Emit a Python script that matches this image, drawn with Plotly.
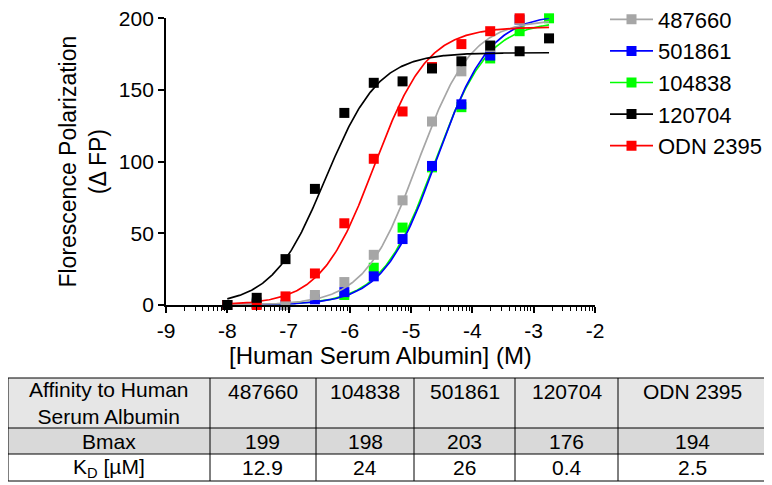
import numpy as np
import plotly.graph_objects as go

# ---------------- data ----------------
log_conc = [-8.00, -7.52, -7.05, -6.57, -6.09, -5.61, -5.14, -4.66, -4.18, -3.71, -3.23, -2.75]

fp_487660 = [0, 2, 0, 7, 16, 35, 73, 128, 163, 180, 199, None]
fp_501861 = [0, 1, 0, 4, 9, 20, 46, 97, 140, 174, 199, None]
fp_104838 = [0, 1, -1, -4, 7, 26, 54, 96, 138, 172, 191, 200]
fp_120704 = [0, 5, 32, 81, 134, 155, 156, 165, 170, 181, 177, 186]
fp_odn2395 = [0, 0, 6, 22, 57, 102, 135, 166, 182, 191, 200, None]

legend_names = ["487660", "501861", "104838", "120704", "ODN 2395"]

table_corner = "Affinity to Human<br>Serum Albumin"
table_compounds = ["487660", "104838", "501861", "120704", "ODN 2395"]
table_row_labels = ["Bmax", "K<sub>D</sub> [µM]"]
bmax = [199, 198, 203, 176, 194]
kd_um = [12.9, 24, 26, 0.4, 2.5]

x_tick_vals = [-9, -8, -7, -6, -5, -4, -3, -2]
x_tick_labels = ["-9", "-8", "-7", "-6", "-5", "-4", "-3", "-2"]
y_tick_vals = [0, 50, 100, 150, 200]

colors = {"487660": "#a6a6a6", "501861": "#0000ff", "104838": "#00ff00",
          "120704": "#000000", "ODN 2395": "#ff0000"}
values = {"487660": fp_487660, "501861": fp_501861, "104838": fp_104838,
          "120704": fp_120704, "ODN 2395": fp_odn2395}
fit = {c: (b, k) for c, b, k in zip(table_compounds, bmax, kd_um)}

# the page body has an 8px margin: the figure is placed at (8, 8) of the 772x485 window
OFF = 8
W, H = 772 - OFF, 485 - OFF
FONT = "Liberation Sans, Arial, sans-serif"


def px(x):
    """window pixel x -> paper fraction"""
    return (x - OFF) / W


def py(y):
    """window pixel y -> paper fraction"""
    return 1 - (y - OFF) / H


fig = go.Figure()

# drawing order (bottom -> top)
draw_order = ["104838", "501861", "487660", "ODN 2395", "120704"]
xfit = np.linspace(min(log_conc), max(log_conc), 300)
for name in draw_order:
    b, k = fit[name]
    yfit = b * 10 ** xfit / (k * 1e-6 + 10 ** xfit)
    fig.add_trace(go.Scatter(x=log_conc, y=values[name], mode="markers",
                             marker=dict(symbol="square", size=10, color=colors[name]),
                             cliponaxis=False, showlegend=False, legendgroup=name,
                             hoverinfo="skip"))
    fig.add_trace(go.Scatter(x=xfit, y=yfit, mode="lines",
                             line=dict(color=colors[name], width=1.7),
                             cliponaxis=False, showlegend=False, legendgroup=name,
                             hoverinfo="skip"))

# legend entries (line + square symbol)
for name in legend_names:
    fig.add_trace(go.Scatter(x=[None], y=[None], mode="lines+markers", name=name,
                             legendgroup=name,
                             marker=dict(symbol="square", size=10, color=colors[name]),
                             line=dict(color=colors[name], width=1.7)))

# minor ticks of log axis
minor_vals = [d + np.log10(m) for d in range(-9, -2) for m in range(2, 10)]

# ---------------- table (shapes + annotations) ----------------
col_edges = [8, 210, 316, 414, 515, 618, 766]      # window px
row_edges = [378, 428, 454, 481]                   # window px
row_fills = ["#e6e6e6", "#d9d9d9", "#ffffff"]
TFONT = dict(family=FONT, size=21, color="black")

shapes = []
annotations = []
for r in range(3):
    shapes.append(dict(type="rect", xref="paper", yref="paper",
                       x0=px(col_edges[0]), x1=px(col_edges[-1]),
                       y0=py(row_edges[r + 1]), y1=py(row_edges[r]),
                       fillcolor=row_fills[r], line=dict(width=0), layer="below"))
for yv in row_edges:
    shapes.append(dict(type="line", xref="paper", yref="paper",
                       x0=px(col_edges[0]), x1=px(col_edges[-1]), y0=py(yv), y1=py(yv),
                       line=dict(color="black", width=1)))
for xv in col_edges:
    shapes.append(dict(type="line", xref="paper", yref="paper",
                       x0=px(xv), x1=px(xv), y0=py(row_edges[0]), y1=py(row_edges[-1]),
                       line=dict(color="black", width=1)))

header_texts = [table_corner] + table_compounds
body_rows = [[table_row_labels[0]] + [str(v) for v in bmax],
             [table_row_labels[1]] + [str(v) for v in kd_um]]
for c in range(6):
    xc = px((col_edges[c] + col_edges[c + 1]) / 2)
    if c == 0:
        annotations.append(dict(x=xc, y=py((row_edges[0] + row_edges[1]) / 2),
                                xref="paper", yref="paper", text=header_texts[c],
                                showarrow=False, font=TFONT, xanchor="center",
                                yanchor="middle", align="center"))
    else:
        annotations.append(dict(x=xc, y=py(row_edges[0] + 13), xref="paper", yref="paper",
                                text=header_texts[c], showarrow=False, font=TFONT,
                                xanchor="center", yanchor="middle"))
    for r in range(2):
        annotations.append(dict(x=xc, y=py((row_edges[r + 1] + row_edges[r + 2]) / 2),
                                xref="paper", yref="paper", text=body_rows[r][c],
                                showarrow=False, font=TFONT,
                                xanchor="center", yanchor="middle"))

fig.update_layout(
    width=W, height=H,
    margin=dict(l=0, r=0, t=0, b=0, autoexpand=False),
    paper_bgcolor="white", plot_bgcolor="white",
    font=dict(family=FONT, color="black"),
    xaxis=dict(domain=[px(166), px(595)], range=[-9, -2], automargin=False,
               tickmode="array", tickvals=x_tick_vals, ticktext=x_tick_labels,
               ticks="outside", ticklen=6, tickwidth=1.5, tickcolor="black",
               minor=dict(tickmode="array", tickvals=minor_vals, ticks="outside",
                          ticklen=4, tickwidth=1.2, tickcolor="black", showgrid=False),
               showline=True, linecolor="black", linewidth=1.8,
               showgrid=False, zeroline=False, ticklabeloverflow="allow",
               tickfont=dict(size=21, family=FONT),
               title=dict(text="[Human Serum Albumin] (M)", font=dict(size=24, family=FONT),
                          standoff=4)),
    yaxis=dict(domain=[py(305), py(18.3)], range=[0, 200], automargin=False,
               tickmode="array", tickvals=y_tick_vals,
               ticks="outside", ticklen=6, tickwidth=1.5, tickcolor="black",
               showline=True, linecolor="black", linewidth=1.8,
               showgrid=False, zeroline=False, ticklabeloverflow="allow",
               tickfont=dict(size=21, family=FONT),
               title=dict(text="Florescence Polarization<br>(Δ FP)",
                          font=dict(size=23, family=FONT), standoff=6)),
    legend=dict(x=px(605), xanchor="left", y=py(-1.5), yanchor="top",
                font=dict(size=22, family=FONT), bgcolor="rgba(0,0,0,0)",
                tracegroupgap=0, itemwidth=43),
    shapes=shapes,
    annotations=annotations,
)

fig.write_html("out.html")
